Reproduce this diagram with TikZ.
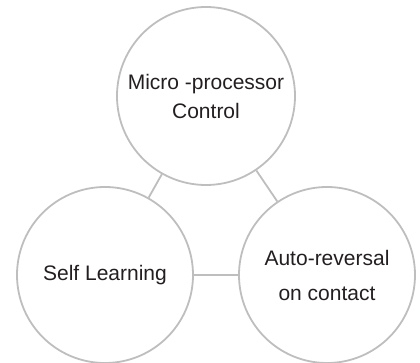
\documentclass[tikz,border=0pt]{standalone}
\usepackage{fontspec}
\setmainfont{Liberation Sans}
\usetikzlibrary{positioning}
\definecolor{ringgray}{HTML}{BEBEBE}
\definecolor{textgray}{HTML}{231F20}
\tikzset{
    feature/.style = {circle, draw=ringgray, line width=1.8pt, minimum size=176pt,
                        inner sep=0pt, align=center, text=textgray},
    link/.style = {draw=ringgray, line width=1.8pt}
}

\begin{document}
\begin{tikzpicture}[x=1pt, y=-1pt]
			\useasboundingbox (0,0) rectangle (420,363);
			\node (mpc) [feature, minimum size=178pt, font=\fontsize{21}{29}\selectfont] at (206,96) {Micro -processor\\Control};
			\node (self) [feature, font=\fontsize{21}{25}\selectfont] at (105,275) {Self Learning};
			\node (auto) [feature, font=\fontsize{21}{35}\selectfont] at (327,275) {Auto-reversal\\on contact};
			\draw [link] (mpc) to (self);
			\draw [link] (mpc) to (auto);
			\draw [link] (self) to (auto);
		\end{tikzpicture}
\end{document}
